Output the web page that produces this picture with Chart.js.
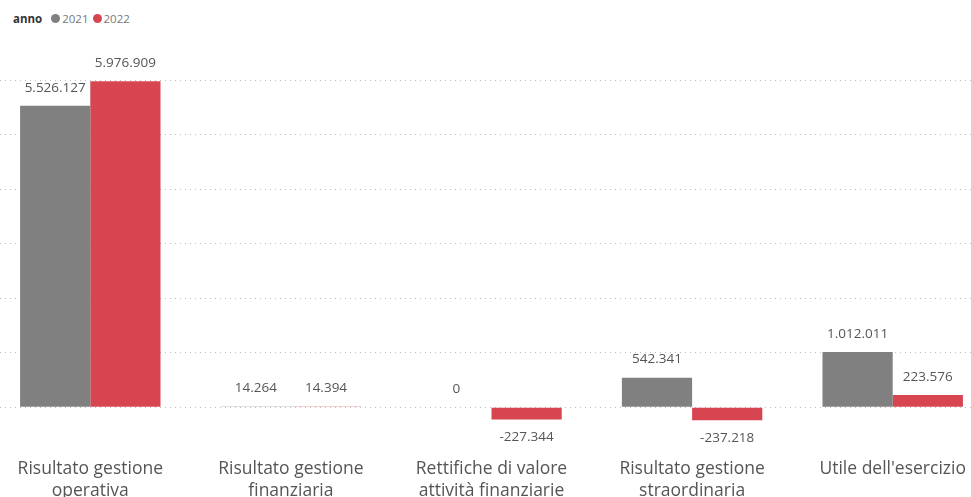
<!DOCTYPE html>
<html>
<head>
<meta charset="utf-8">
<script src="https://cdn.jsdelivr.net/npm/chart.js@4/dist/chart.umd.min.js"></script>
<style>
    html, body { margin: 0; padding: 0; background: #fff; overflow: hidden; }
    body { width: 971px; height: 497px; position: relative; font-family: "Open Sans", "Noto Sans", sans-serif; }
    #legend { position: absolute; left: 13px; top: 11px; font-size: 11.5px; color: #777; display: flex; align-items: center; white-space: nowrap; }
    #legend b { color: #333; margin-right: 9px; }
    #legend .dot { width: 9px; height: 9px; border-radius: 50%; display: inline-block; margin-right: 2px; }
    #legend .item { display: inline-flex; align-items: center; margin-right: 4px; }
    #wrap { position: absolute; left: -10px; top: 0; width: 1003px; height: 506px; }
</style>
</head>
<body>
<div id="legend"></div>
<div id="wrap"><canvas id="chart"></canvas></div>
<script>
// ---- data ----
const legendTitle = "anno";
const categories = [
    ["Risultato gestione", "operativa"],
    ["Risultato gestione", "finanziaria"],
    ["Rettifiche di valore", "attività finanziarie"],
    ["Risultato gestione", "straordinaria"],
    ["Utile dell'esercizio"]
];
const seriesNames = ["2021", "2022"];
const values2021 = [5526127, 14264, 0, 542341, 1012011];
const values2022 = [5976909, 14394, -227344, -237218, 223576];
const gridValues = [0, 1000000, 2000000, 3000000, 4000000, 5000000, 6000000];

const COLORS = ["#808080", "#D64550"];

function fmt(v) {
    const s = Math.abs(Math.round(v)).toString().replace(/\B(?=(\d{3})+(?!\d))/g, ".");
    return (v < 0 ? "-" : "") + s;
}

// legend in html
const lg = document.getElementById("legend");
lg.innerHTML = `<b>${legendTitle}</b>` + seriesNames.map((n, i) =>
    `<span class="item"><span class="dot" style="background:${COLORS[i]}"></span>${n}</span>`).join("");

// value labels above / below each bar
const valueLabels = {
    id: "valueLabels",
    afterDatasetsDraw(chart) {
        const ctx = chart.ctx;
        ctx.save();
        ctx.font = "13.5px 'Open Sans', 'Noto Sans', sans-serif";
        ctx.fillStyle = "#555";
        ctx.textAlign = "center";
        ctx.textBaseline = "middle";
        chart.data.datasets.forEach((ds, di) => {
            chart.getDatasetMeta(di).data.forEach((bar, i) => {
                const v = ds.data[i];
                const y = v >= 0 ? bar.y - 18 : bar.y + 18;
                ctx.fillText(fmt(v), bar.x, y);
            });
        });
        ctx.restore();
    }
};

new Chart(document.getElementById("chart"), {
    type: "bar",
    data: {
        labels: categories,
        datasets: [
            { label: seriesNames[0], data: values2021, backgroundColor: COLORS[0] },
            { label: seriesNames[1], data: values2022, backgroundColor: COLORS[1] }
        ]
    },
    options: {
        responsive: true,
        maintainAspectRatio: false,
        animation: false,
        categoryPercentage: 0.7,
        barPercentage: 1.0,
        layout: { padding: { top: 80, left: 0, right: 0, bottom: 0 } },
        plugins: {
            legend: { display: false },
            tooltip: { enabled: false }
        },
        scales: {
            x: {
                grid: { display: false },
                border: { display: false },
                ticks: {
                    color: "#555",
                    padding: 4,
                    maxRotation: 0,
                    autoSkip: false,
                    font: { family: "'Open Sans', 'Noto Sans', sans-serif", size: 17.5, lineHeight: 1.25 }
                }
            },
            y: {
                min: -716000,
                max: 6000000,
                afterBuildTicks: scale => { scale.ticks = gridValues.map(v => ({ value: v })); },
                ticks: { display: false },
                border: { display: false, dash: [1, 4] },
                grid: {
                    color: "#bdbdbd",
                    lineWidth: 1,
                    drawTicks: false
                },
                afterFit: scale => { scale.width = 0; }
            }
        }
    },
    plugins: [valueLabels]
});
</script>
</body>
</html>
